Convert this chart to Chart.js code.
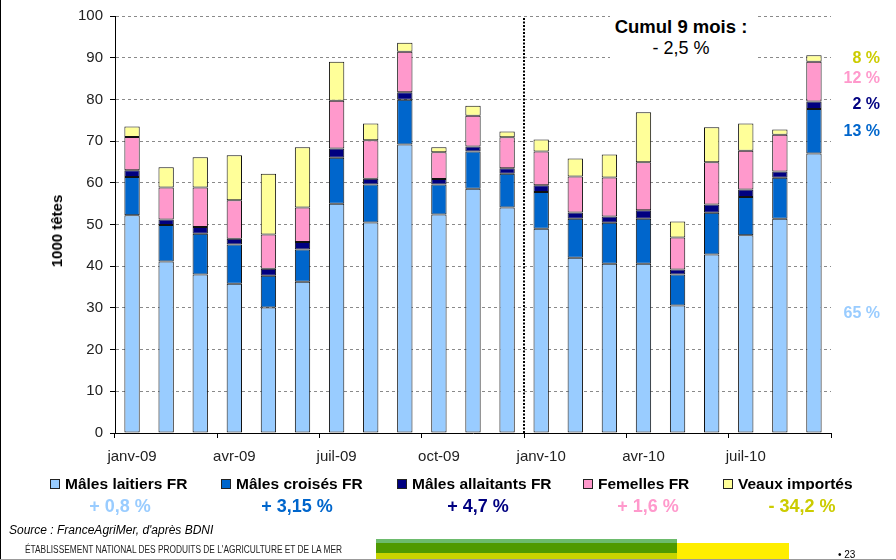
<!DOCTYPE html>
<html>
<head>
<meta charset="utf-8">
<script src="https://cdn.jsdelivr.net/npm/chart.js@4/dist/chart.umd.min.js"></script>
<style>
  html, body { margin: 0; padding: 0; background: #fff; }
  #wrap { position: relative; width: 896px; height: 560px; overflow: hidden; font-family: "Liberation Sans", Arial, sans-serif; }
  #c { position: absolute; left: 0; top: 0; }
  .abs { position: absolute; white-space: nowrap; }
</style>
</head>
<body>
<div id="wrap">
  <canvas id="c" width="896" height="560"></canvas>
</div>
<script>
// ---- Data ----
const categories = ['janv-09','févr-09','mars-09','avr-09','mai-09','juin-09','juil-09','août-09','sept-09','oct-09','nov-09','déc-09',
                    'janv-10','févr-10','mars-10','avr-10','mai-10','juin-10','juil-10','août-10','sept-10'];
const seriesNames = ['Mâles laitiers FR','Mâles croisés FR','Mâles allaitants FR','Femelles FR','Veaux importés'];
const malesLaitiers   = [52.2,41.1,38.0,35.8,30.1,36.3,55.0,50.5,69.2,52.4,58.6,54.1,49.0,42.0,40.6,40.6,30.6,42.8,47.4,51.4,67.0];
const malesCroises    = [ 9.2, 8.8, 9.8, 9.4, 7.6, 7.7,11.0, 9.1,10.7, 7.2, 8.9, 8.1, 8.8, 9.4, 9.8,10.8, 7.4,10.0, 9.2, 9.8,10.7];
const malesAllaitants = [ 1.6, 1.3, 1.6, 1.4, 1.7, 1.8, 2.2, 1.4, 1.8, 1.3, 1.2, 1.3, 1.6, 1.5, 1.5, 2.0, 1.2, 2.0, 1.8, 1.5, 1.8];
const femelles        = [ 8.0, 7.7, 9.5, 9.2, 8.2, 8.3,11.5, 9.2, 9.7, 6.4, 7.4, 7.4, 8.1, 8.6, 9.4,11.5, 7.7,10.1, 9.3, 8.8, 9.5];
const veauxImportes   = [ 2.5, 4.8, 7.2,10.8,14.6,14.4, 9.3, 4.0, 2.2, 1.2, 2.4, 1.4, 2.9, 4.3, 5.5,12.0, 3.8, 8.4, 6.5, 1.3, 1.6];
const evolutions = ['+ 0,8 %','+ 3,15 %','+ 4,7 %','+ 1,6 %','- 34,2 %'];
const shares     = ['65 %','13 %','2 %','12 %','8 %'];
const yTitle = '1000 têtes';
const cumulTitle = 'Cumul 9 mois :';
const cumulValue = '- 2,5 %';
const sourceText = "Source : FranceAgriMer, d'après BDNI";
const footerText = "ÉTABLISSEMENT NATIONAL DES PRODUITS DE L'AGRICULTURE ET DE LA MER";
const pageNumber = '• 23';

// ---- Styles ----
const fills = ['#99CCFF','#0066CC','#000080','#FF99CC','#FFFF99'];
const textColors = ['#99CCFF','#0066CC','#000080','#FF99CC','#CCCC00'];
const seriesData = [malesLaitiers, malesCroises, malesAllaitants, femelles, veauxImportes];

const W = 896, H = 560;
const AREA = { left: 115, right: 831, top: 16, bottom: 433 };

const dividerPlugin = {
  id: 'divider',
  afterDatasetsDraw(chart) {
    const x = chart.scales.x;
    const px = (x.getPixelForValue(11) + x.getPixelForValue(12)) / 2;
    const ctx = chart.ctx;
    ctx.save();
    ctx.strokeStyle = '#000';
    ctx.lineWidth = 2;
    ctx.setLineDash([2, 1.5]);
    ctx.beginPath();
    ctx.moveTo(Math.round(px), chart.scales.y.getPixelForValue(99.5));
    ctx.lineTo(Math.round(px), chart.chartArea.bottom);
    ctx.stroke();
    ctx.restore();
  }
};

new Chart(document.getElementById('c'), {
  type: 'bar',
  data: {
    labels: categories,
    datasets: seriesData.map((d, i) => ({
      label: seriesNames[i],
      data: d,
      backgroundColor: fills[i],
      borderColor: '#111',
      borderWidth: 1,
      borderSkipped: false,
      barPercentage: 0.45,
      categoryPercentage: 1.0
    }))
  },
  options: {
    responsive: false,
    animation: false,
    devicePixelRatio: 1,
    layout: { padding: { left: 0, top: AREA.top, right: W - AREA.right, bottom: 0 } },
    plugins: { legend: { display: false }, tooltip: { enabled: false } },
    scales: {
      x: {
        stacked: true,
        afterFit(s) { s.height = H - AREA.bottom; },
        grid: {
          offset: true,
          drawOnChartArea: false,
          drawTicks: true,
          tickLength: 5,
          tickWidth: 1,
          tickColor: (c) => (c.index === undefined || c.index % 3 === 0) ? '#000' : 'rgba(0,0,0,0)'
        },
        border: { display: true, color: '#000', width: 1 },
        ticks: {
          autoSkip: false,
          maxRotation: 0,
          minRotation: 0,
          padding: 10,
          color: '#222',
          font: { family: 'Liberation Sans', size: 15 },
          callback: function (v, idx) { return idx % 3 === 0 ? this.getLabelForValue(v) : ''; }
        }
      },
      y: {
        stacked: true,
        min: 0,
        max: 100,
        afterFit(s) { s.width = AREA.left; },
        grid: {
          color: (c) => c.tick && c.tick.value === 0 ? 'rgba(0,0,0,0)' : '#8a8a8a',
          lineWidth: 1,
          borderDash: [3, 3],
          drawTicks: true,
          tickLength: 5,
          tickColor: '#000',
          tickBorderDash: [],
          tickWidth: 1
        },
        border: { display: true, color: '#000', width: 1, dash: [3, 3] },
        ticks: {
          stepSize: 10,
          padding: 7,
          color: '#222',
          font: { family: 'Liberation Sans', size: 15 }
        }
      }
    }
  },
  plugins: [dividerPlugin]
});

// ---- HTML text & decorations ----
const wrap = document.getElementById('wrap');
function addDiv(html, css) {
  const d = document.createElement('div');
  d.className = 'abs';
  d.innerHTML = html;
  Object.assign(d.style, css);
  wrap.appendChild(d);
  return d;
}

// left and bottom frame lines
addDiv('', { left: '0px', top: '0px', width: '1px', height: H + 'px', background: '#000' });
addDiv('', { left: '0px', top: (H - 1) + 'px', width: W + 'px', height: '1px', background: '#999' });

// y-axis title (rotated)
addDiv(yTitle, { left: '57px', top: '231px', transform: 'translate(-50%,-50%) rotate(-90deg)',
  fontWeight: 'bold', fontSize: '15px', color: '#000', lineHeight: '18px' });

// Cumul box (white background hides gridlines)
addDiv('', { left: '610px', top: '8px', width: '147px', height: '56px', background: '#fff' });
addDiv(cumulTitle, { left: '681px', top: '27px', transform: 'translate(-50%,-50%)', fontWeight: 'bold', fontSize: '18.5px', color: '#000' });
addDiv(cumulValue, { left: '681px', top: '48px', transform: 'translate(-50%,-50%)', fontSize: '18px', color: '#000' });

// shares on the right
const shareY = [313, 131, 104, 78, 58];
shares.forEach((s, i) => {
  addDiv(s, { right: (W - 880) + 'px', top: shareY[i] + 'px', transform: 'translateY(-50%)',
    fontWeight: 'bold', fontSize: '16px', color: textColors[i] });
});

// legend (clipped at bottom like the reference)
const legendClip = addDiv('', { left: '0px', top: '472px', width: W + 'px', height: '18px', overflow: 'hidden' });
const legendX = [50, 221, 397, 583, 723];
seriesNames.forEach((n, i) => {
  const item = document.createElement('div');
  item.className = 'abs';
  Object.assign(item.style, { left: legendX[i] + 'px', top: '0px', height: '24px' });
  item.innerHTML = '<span style="position:absolute;left:0;top:7px;width:8px;height:8px;border:1px solid #222;background:' + fills[i] + '"></span>' +
    '<span style="position:absolute;left:15px;top:2px;font-weight:bold;font-size:15.5px;color:#000;line-height:20px">' + n + '</span>';
  legendClip.appendChild(item);
});

// evolutions
const evoX = [120, 297, 478, 648, 802];
evolutions.forEach((e, i) => {
  addDiv(e, { left: evoX[i] + 'px', top: '506px', transform: 'translate(-50%,-50%)',
    fontWeight: 'bold', fontSize: '18px', color: textColors[i] });
});

// footer
addDiv(sourceText, { left: '9px', top: '530px', transform: 'translateY(-50%)', fontStyle: 'italic', fontSize: '12px', color: '#000' });
const ft = addDiv(footerText, { left: '25px', top: '549px', transform: 'translateY(-50%)', fontSize: '10px', color: '#222', transformOrigin: 'left center' });
const fw = ft.getBoundingClientRect().width;
ft.style.transform = 'translateY(-50%) scaleX(' + (317 / fw) + ')';
addDiv('', { left: '376px', top: '539px', width: '301px', height: '4px', background: '#6DBB6D' });
addDiv('', { left: '376px', top: '543px', width: '301px', height: '10px', background: '#4F9A00' });
addDiv('', { left: '376px', top: '553px', width: '301px', height: '6px', background: '#C8D400' });
addDiv('', { left: '677px', top: '543px', width: '112px', height: '16px', background: '#FFEE00' });
addDiv(pageNumber, { left: '838px', top: '554px', transform: 'translateY(-50%)', fontSize: '10px', color: '#000' });
</script>
</body>
</html>
